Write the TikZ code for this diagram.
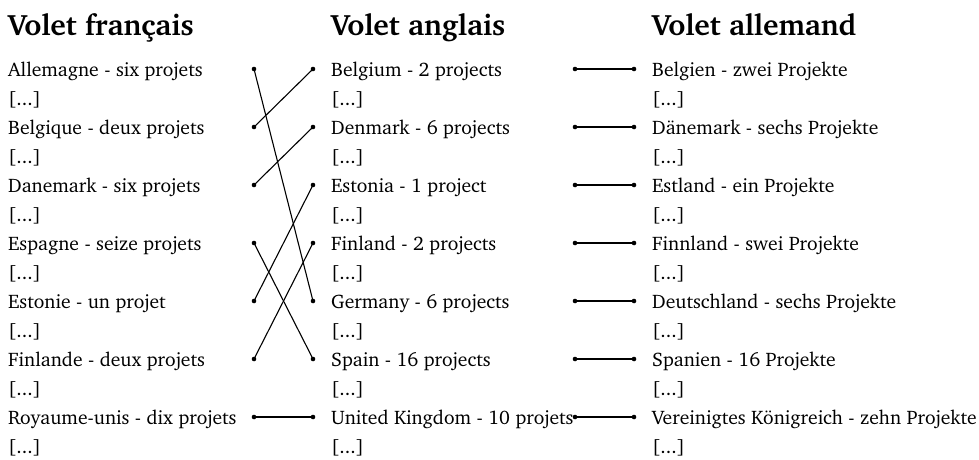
\documentclass[tikz,border=0pt]{standalone}
\usepackage[T1]{fontenc}
\usepackage{charter}
\begin{document}
\begin{tikzpicture}[x=1pt,y=-1pt,
  txt/.style={anchor=base west,inner sep=0pt,font=\fontsize{19.6}{24}\selectfont},
  ttl/.style={anchor=base west,inner sep=0pt,font=\fontsize{29.5}{34}\selectfont\bfseries},
  dotn/.style={circle,fill,inner sep=0pt,minimum size=4.6pt},
  link/.style={line width=1.1pt}]
\useasboundingbox (0,0) rectangle (979,459);
\node[ttl] (t1) at (8,35) {Volet français};
\node[ttl] (t2) at (331,35) {Volet anglais};
\node[ttl] (t3) at (652,35) {Volet allemand};
\foreach \i/\t in {0/Allemagne - six projets,2/Belgique - deux projets,4/Danemark - six projets,6/Espagne - seize projets,8/Estonie - un projet,10/Finlande - deux projets,12/Royaume-unis - dix projets}{
  \node[txt] (a\i) at (8,76+29*\i) {\t};
  \node[dotn] (al\i) at (254,69+29*\i) {};
}
\foreach \i/\t in {0/Belgium - 2 projects,2/Denmark - 6 projects,4/Estonia - 1 project,6/Finland - 2 projects,8/Germany - 6 projects,10/Spain - 16 projects,12/United Kingdom - 10 projets}{
  \node[txt] (b\i) at (331,76+29*\i) {\t};
  \node[dotn] (bl\i) at (313,69+29*\i) {};
  \node[dotn] (br\i) at (575,69+29*\i) {};
}
\foreach \i/\t in {0/Belgien - zwei Projekte,2/Dänemark - sechs Projekte,4/Estland - ein Projekte,6/Finnland - swei Projekte,8/Deutschland - sechs Projekte,10/Spanien - 16 Projekte,12/Vereinigtes Königreich - zehn Projekte}{
  \node[txt] (c\i) at (652,76+29*\i) {\t};
  \node[dotn] (cl\i) at (634,69+29*\i) {};
}
\foreach \i in {1,3,5,7,9,11,13}{
  \node[txt] (ae\i) at (8,76+29*\i) {[...]};
  \node[txt] (be\i) at (331,76+29*\i) {[...]};
  \node[txt] (ce\i) at (652,76+29*\i) {[...]};
}
\draw[link] (al0.center) -- (bl8.center);
\draw[link] (al2.center) -- (bl0.center);
\draw[link] (al4.center) -- (bl2.center);
\draw[link] (al6.center) -- (bl10.center);
\draw[link] (al8.center) -- (bl4.center);
\draw[link] (al10.center) -- (bl6.center);
\draw[link] (al12.center) -- (bl12.center);
\foreach \i in {0,2,...,12}{
  \draw[link] (br\i.center) -- (cl\i.center);
}
\end{tikzpicture}
\end{document}
